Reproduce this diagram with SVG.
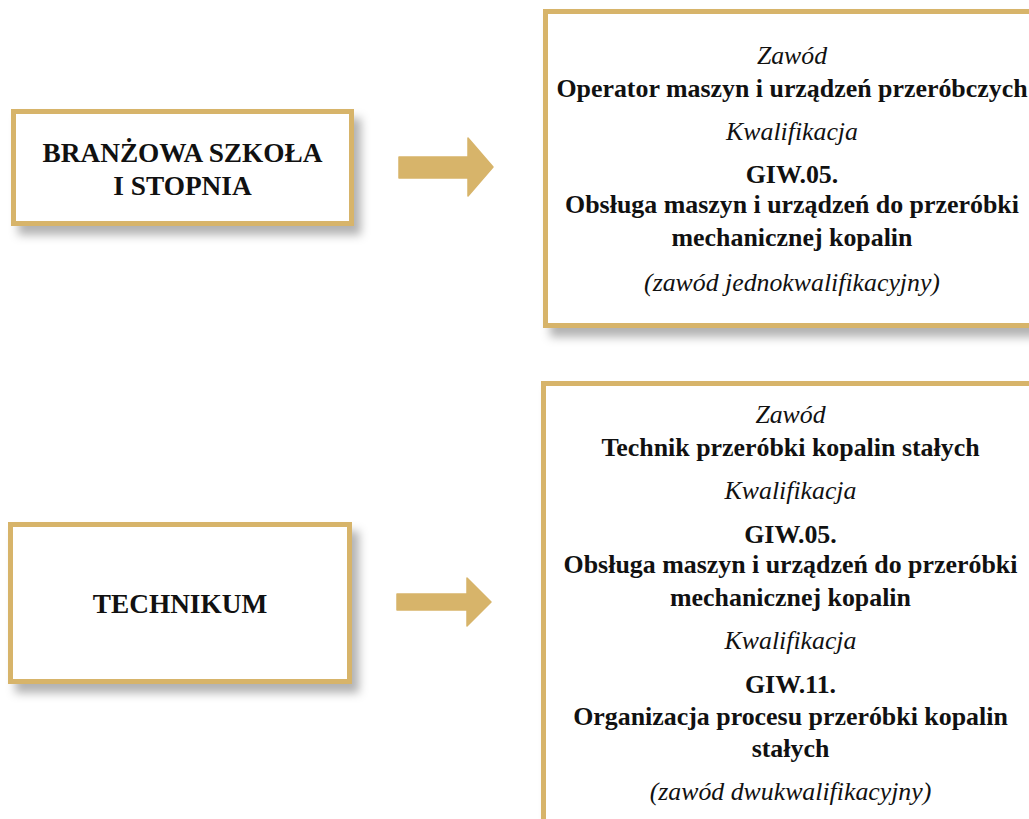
<svg xmlns="http://www.w3.org/2000/svg" width="1029" height="819" viewBox="0 0 1029 819">
<style>
.box{fill:#fff;stroke:#d7b46a;stroke-width:5;filter:url(#sh)}
.arrow{fill:#d7b46a;stroke:#d7b46a;stroke-width:1.5;stroke-linejoin:round}
text{font-family:"Liberation Serif","DejaVu Serif",serif;fill:#111;text-anchor:middle}
.b{font-weight:bold;font-size:25.9px}
.bl{font-weight:bold;font-size:27.3px}
.i{font-style:italic;font-size:25.8px}
</style>
<defs>
<filter id="sh" x="-10%" y="-10%" width="130%" height="140%">
<feDropShadow dx="7" dy="9" stdDeviation="5" flood-color="#000" flood-opacity="0.3"/>
</filter>
</defs>
<rect width="1029" height="819" fill="#fff"/>
<g id="node-branzowa">
<rect class="box" x="13.5" y="111.5" width="338" height="112"/>
<text class="bl" x="182.5" y="162">BRANŻOWA SZKOŁA</text>
<text class="bl" x="182.5" y="195">I STOPNIA</text>
</g>
<g id="node-technikum">
<rect class="box" x="10.5" y="524.5" width="339" height="157"/>
<text class="bl" x="180" y="613">TECHNIKUM</text>
</g>
<g id="node-operator">
<rect class="box" x="545.5" y="11.5" width="520" height="314"/>
<text class="i" x="792" y="64">Zawód</text>
<text class="b" x="792" y="97">Operator maszyn i urządzeń przeróbczych</text>
<text class="i" x="792" y="140">Kwalifikacja</text>
<text class="b" x="792" y="183">GIW.05.</text>
<text class="b" x="792" y="213">Obsługa maszyn i urządzeń do przeróbki</text>
<text class="b" x="792" y="246">mechanicznej kopalin</text>
<text class="i" x="792" y="291">(zawód jednokwalifikacyjny)</text>
</g>
<g id="node-technik">
<rect class="box" x="543.5" y="383.5" width="520" height="500"/>
<text class="i" x="790.5" y="423">Zawód</text>
<text class="b" x="790.5" y="456">Technik przeróbki kopalin stałych</text>
<text class="i" x="790.5" y="499">Kwalifikacja</text>
<text class="b" x="790.5" y="543">GIW.05.</text>
<text class="b" x="790.5" y="573">Obsługa maszyn i urządzeń do przeróbki</text>
<text class="b" x="790.5" y="606">mechanicznej kopalin</text>
<text class="i" x="790.5" y="649">Kwalifikacja</text>
<text class="b" x="790.5" y="693">GIW.11.</text>
<text class="b" x="790.5" y="725">Organizacja procesu przeróbki kopalin</text>
<text class="b" x="790.5" y="757">stałych</text>
<text class="i" x="790.5" y="800">(zawód dwukwalifikacyjny)</text>
</g>
<g id="connectors">
<polygon class="arrow" points="399,157 468,157 468,138 493,167 468,196 468,178 399,178"/>
<polygon class="arrow" points="397,594 467,594 467,578 491,602 467,626 467,610 397,610"/>
</g>
</svg>
